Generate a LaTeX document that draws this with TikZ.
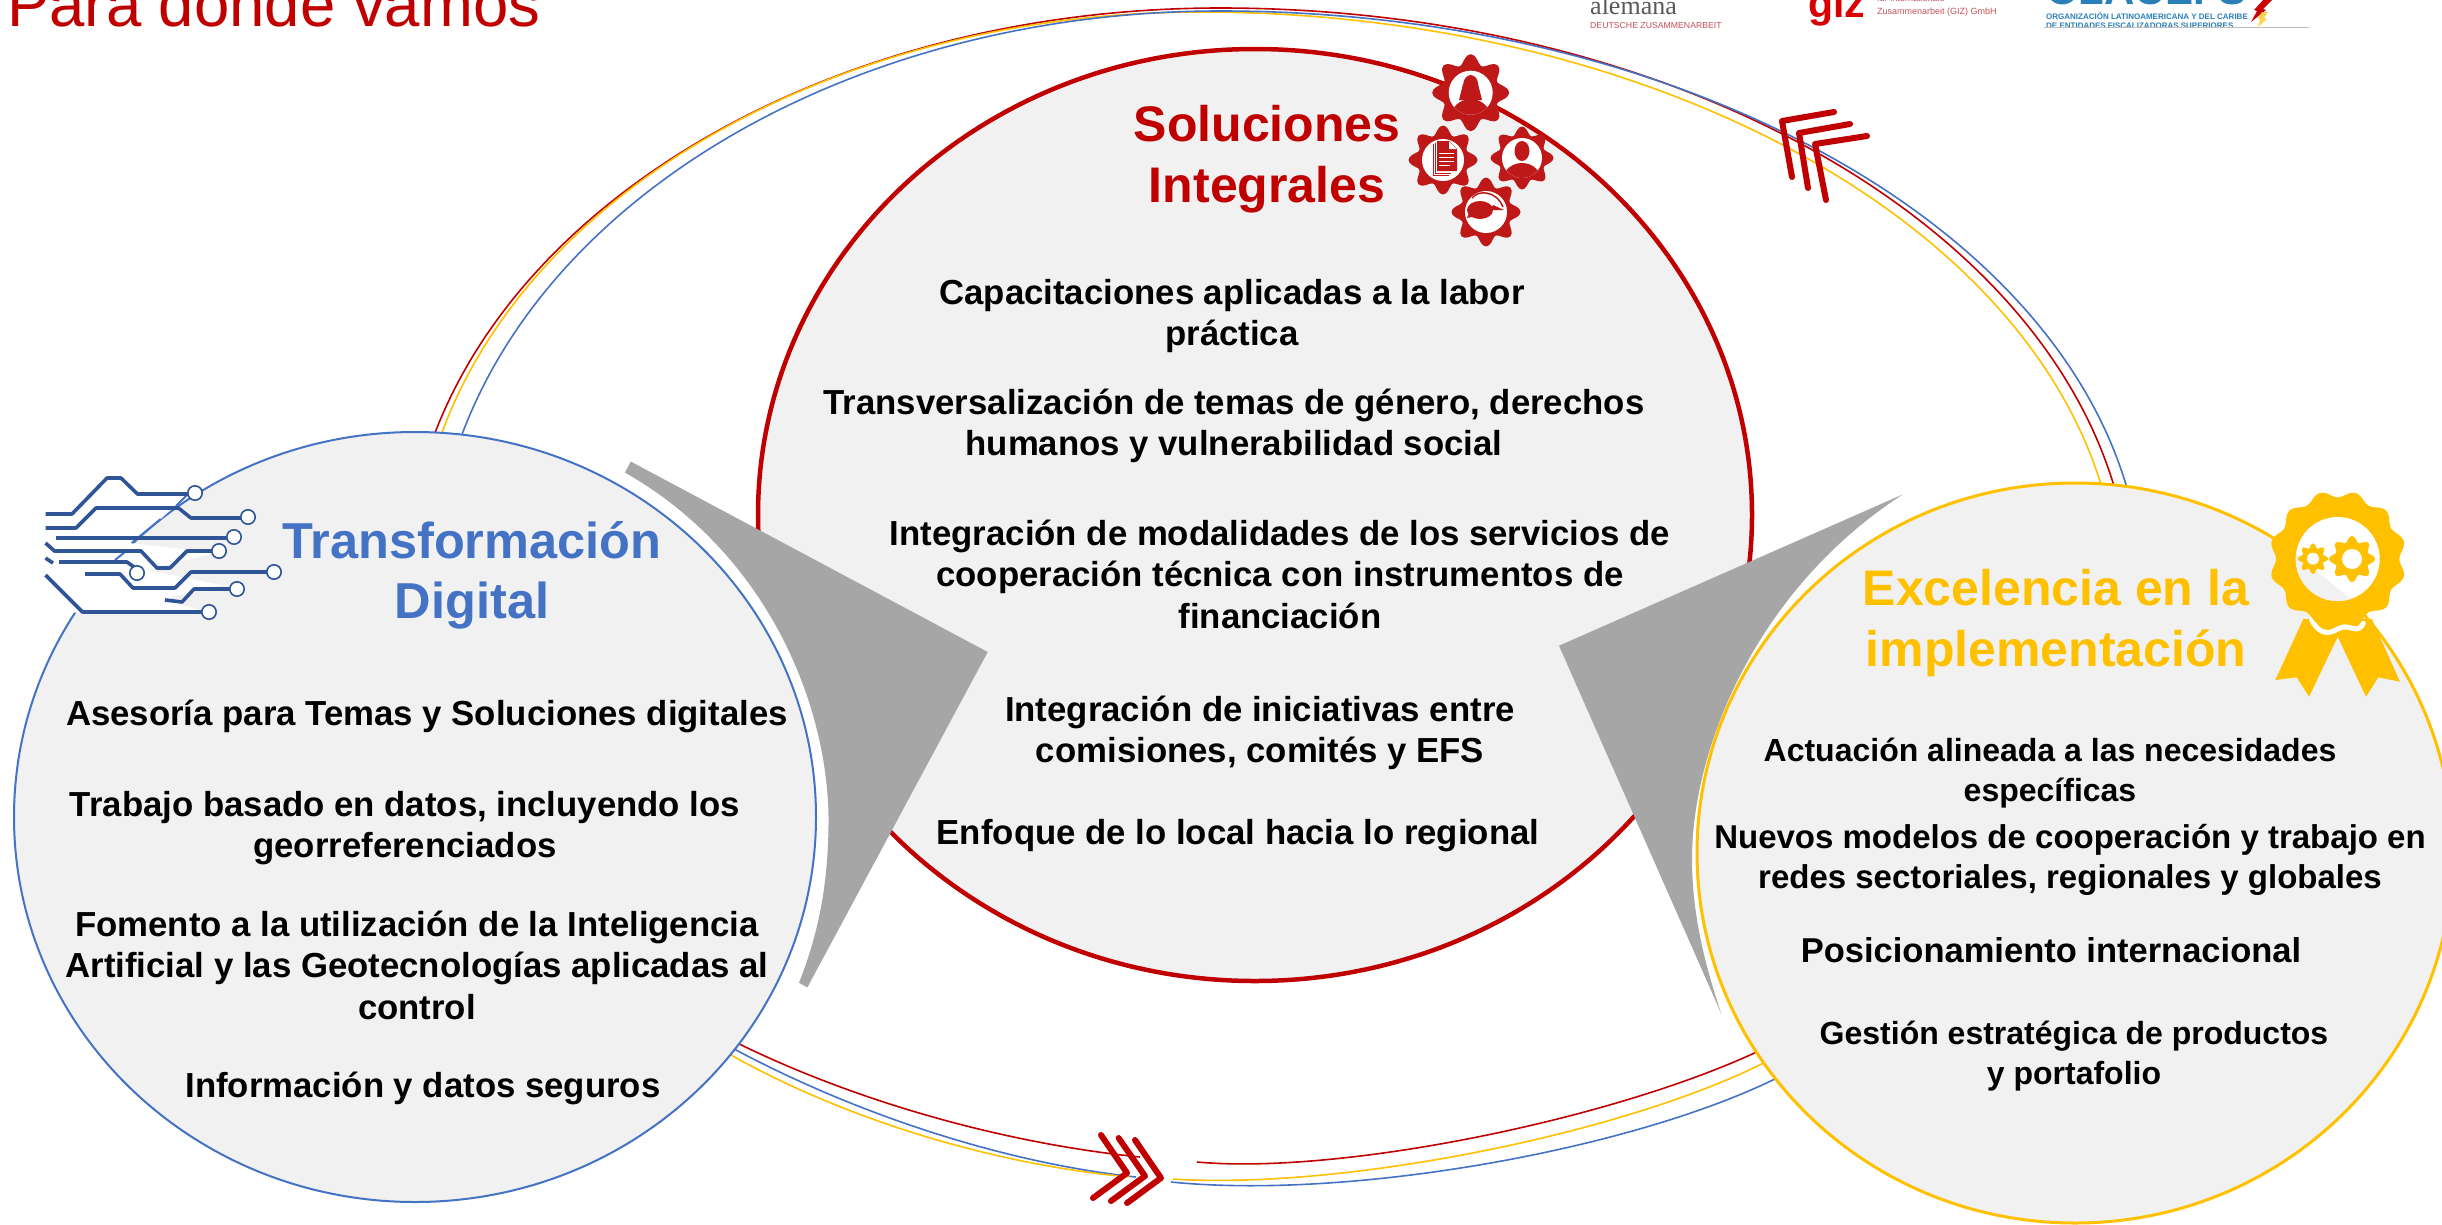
\documentclass[tikz,border=0pt]{standalone}
\usepackage{fontspec}
\setmainfont{Liberation Sans}
\newfontfamily\serifal{Liberation Serif}
\usetikzlibrary{shapes.geometric}
\definecolor{cblue}{HTML}{4472C4}
\definecolor{cred}{HTML}{C00000}
\definecolor{cyel}{HTML}{FFC000}
\definecolor{cgray}{HTML}{A6A6A6}
\definecolor{cfill}{HTML}{F1F1F1}
\definecolor{gearred}{HTML}{BE1818}
\definecolor{circ}{HTML}{2F5597}
\definecolor{logoblue}{HTML}{2A7FB8}
\definecolor{logored}{HTML}{C4505A}
\pgfdeclarelayer{background}
\pgfsetlayers{background,main}
\newcommand\cog[7]{\fill[#1] plot[smooth cycle,samples=72,domain=0:355]
  ({#2+(#4+#5*cos(#6*\x))*cos(\x)},{#3+(#4+#5*cos(#6*\x))*sin(\x)});
  \fill[white] (#2,#3) circle[radius=#7];}
% ring arc over the top: colour, start, end, cx, cy, rxL, rxR, ry, aL, aR
\newcommand\ringtop[9]{\def\rA{#1}\def\rB{#2}\def\rC{#3}\def\rX{#4}\def\rY{#5}\def\rL{#6}\def\rR{#7}\def\rH{#8}\def\aL{#9}\ringtopc}
\newcommand\ringtopc[1]{\pgfmathsetmacro\kL{4/3*tan((\aL-90)/4)}\pgfmathsetmacro\kR{4/3*tan((90-#1)/4)}
  \begin{pgfonlayer}{background}
  \draw[ringline,\rA] (\rB) .. controls ({\rX+\rL*(cos(\aL)+\kL*sin(\aL))},{\rY-\rH*(sin(\aL)-\kL*cos(\aL))}) and ({\rX-\kL*\rL},{\rY-\rH}) .. ({\rX},{\rY-\rH})
   .. controls ({\rX+\kR*\rR},{\rY-\rH}) and ({\rX+\rR*(cos(#1)-\kR*sin(#1))},{\rY-\rH*(sin(#1)+\kR*cos(#1))}) .. (\rC);
  \end{pgfonlayer}}
\tikzset{
  ringline/.style={line width=1.6pt},
  bubble/.style={shape=ellipse,inner sep=0pt,outer sep=0pt,fill=cfill},
  bodytxt/.style={font=\fontsize{34.75}{41.5}\selectfont\bfseries,align=center,inner sep=0pt,text=black},
  bodyy/.style={font=\fontsize{#1}{40}\selectfont\bfseries,align=center,inner sep=0pt,text=black},
  headtxt/.style={font=\fontsize{50}{60.5}\selectfont\bfseries,align=center,inner sep=0pt},
  chev/.style={draw=cred,line width=6pt,line cap=round,line join=round},
  trace/.style={draw=circ,line width=3.6pt,line join=round},
  pad/.style={draw=circ,line width=1.6pt,fill=white},
  smalltxt/.style={inner sep=0pt,anchor=base west}
}
\begin{document}
\begin{tikzpicture}[x=1pt,y=-1pt]
\useasboundingbox (0,0) rectangle (2442,1224);
\clip (0,0) rectangle (2442,1224);
% circles
\node[bubble,draw=cred,line width=4.5pt,minimum width=994pt,minimum height=932pt] (sol) at (1255,515) {};
\begin{scope}
\clip (700,460) rectangle (900,1000);
\fill[white] (415,817) ellipse[x radius=415,y radius=399];
\end{scope}
\node[bubble,draw=cblue,line width=2pt,minimum width=802pt,minimum height=770pt] (dig) at (415,817) {};
\node[bubble,draw=cyel,line width=3pt,minimum width=756pt,minimum height=740pt] (exc) at (2075,853) {};
% rings over the top
\ringtop{cred}{dig.87.3}{exc.84.6}{1220}{590}{818}{905}{582}{164.25}{10.6}
\ringtop{cyel}{dig.86.7}{exc.86.4}{1200}{590}{793}{913}{578}{164.2}{10.7}
\ringtop{cblue}{dig.83.3}{exc.82.2}{1220}{590}{790}{920}{579}{164.2}{10.4}
% rings along the bottom
\coordinate (rl) at (1140,1157);
\coordinate (bl) at (1136,1177);
\coordinate (yl) at (1129,1177);
\coordinate (rr) at (1197,1162);
\coordinate (br) at (1171,1182);
\coordinate (yr) at (1173,1179);
\begin{pgfonlayer}{background}
\draw[ringline,cred] (dig.-35.1) .. controls (862,1104) and (1010,1144) .. (rl);
\draw[ringline,cblue] (dig.-36.1) .. controls (858,1115) and (1005,1163) .. (bl);
\draw[ringline,cyel] (dig.-37.7) .. controls (852,1123) and (1000,1165) .. (yl);
\draw[ringline,cred] (exc.212.4) .. controls (1610,1120) and (1340,1175) .. (rr);
\draw[ringline,cyel] (exc.214.8) .. controls (1620,1135) and (1340,1190) .. (yr);
\draw[ringline,cblue] (exc.217.2) .. controls (1630,1150) and (1350,1200) .. (br);
\end{pgfonlayer}
% chevrons
\draw[chev] (1834,112) -- (1782,121) -- (1792,177);
\draw[chev] (1850,124) -- (1799,133) -- (1808,188);
\draw[chev] (1867,136) -- (1815,144) -- (1826,200);
\draw[chev] (1101,1135) -- (1127,1173) -- (1093,1198);
\draw[chev] (1118.6,1138) -- (1145,1176) -- (1111,1201);
\draw[chev] (1135,1140) -- (1161,1178) -- (1127,1203);
% grey arrows
\fill[cgray] (630.7,461.5) -- (987.7,652) -- (807.3,987.5) -- (799,982.7)
  .. controls (820,930) and (828,880) .. (828.5,825)
  .. controls (830,710) and (770,555) .. (625,472.6) -- cycle;
\fill[cgray] (1903,494.3) -- (1559,645.7) -- (1721.7,1014.6)
  .. controls (1703,960) and (1692,910) .. (1692,859)
  .. controls (1692,750) and (1755,590) .. (1903,494.3) -- cycle;
% circuit icon
\fill[white] (45,613) -- (203,611) -- (163,599) -- (221,585) -- (147,570) -- (215,553) -- (131,543) -- (160.7,519) -- (192,490) -- (45,476) -- cycle;
\draw[cblue,line width=2pt] (192,490) -- (176,506) (160.7,519) -- (131.7,543) (125,552) -- (115,560);
\draw[trace] (45.5,514) -- (72,514) -- (107,478) -- (121,478) -- (137.5,494) -- (190,494);
\draw[trace] (45.5,528) -- (76,528) -- (96,508) -- (178.5,508) -- (191,518) -- (241,518);
\draw[trace] (56,538) -- (228,538);
\draw[trace] (45.5,543) -- (54.5,551) -- (141,551) -- (157,568) -- (170,568) -- (187,551) -- (213,551);
\draw[trace] (45.5,558) -- (53,563);
\draw[trace] (59,562) -- (127,562) -- (134,567);
\draw[trace] (85,574) -- (120,574) -- (133,588) -- (175,588) -- (191,572) -- (268,572);
\draw[trace] (165,600) -- (182,602) -- (194,589) -- (230,589);
\draw[trace] (45.5,575) -- (82.5,612) -- (203,612);
\foreach \px/\py in {195/493,248/517,234/537,219/551,137/573,274/572,237/589,209/612}
  \draw[pad] (\px,\py) circle[radius=7.2];
% gears
\cog{gearred}{1470.7}{92.7}{33.5}{5}{8}{22}
\cog{gearred}{1443}{160}{30}{4.5}{8}{21}
\cog{gearred}{1522}{158}{27.5}{4}{8}{20}
\cog{gearred}{1486}{212}{30}{4.5}{8}{21}
\begin{scope}
\clip (1470.7,92.7) circle[radius=22];
\fill[gearred] (1470.7,85) ellipse[x radius=7.5,y radius=10];
\fill[gearred] (1463,84) -- (1478,84) -- (1482,100) -- (1459,100) -- cycle;
\fill[gearred] (1470.7,118) ellipse[x radius=20,y radius=19];
\end{scope}
\begin{scope}
\clip (1522,158) circle[radius=20];
\fill[gearred] (1522,151) ellipse[x radius=7.5,y radius=10];
\fill[gearred] (1522,180) ellipse[x radius=19,y radius=17];
\end{scope}
\draw[gearred,line width=.8pt] (1433,144) -- (1433,175) -- (1449,175) (1435,143) -- (1435,173) -- (1451,173);
\fill[gearred] (1437,141) -- (1449,141) -- (1457,149) -- (1457,171) -- (1437,171) -- cycle;
\foreach \ly/\lx in {153/1454,157/1454,161/1454,165/1450} \draw[white,line width=1pt] (1439,\ly) -- (\lx,\ly);
\fill[white] (1449,141.5) -- (1449,149) -- (1456.5,149) -- cycle;
\draw[gearred,line width=1.5pt] (1472,198) .. controls (1478,190) and (1496,190) .. (1503,207);
\fill[gearred] (1480,210) ellipse[x radius=13,y radius=9];
\fill[gearred] (1469,213) -- (1467,218) -- (1476,216) -- cycle;
\fill[gearred] (1493,205) -- (1504,210) -- (1490,210) -- cycle;
% badge
\fill[cyel] (2303.3,619) -- (2275.3,680) -- (2296.7,677.3) -- (2309,696.7) -- (2337.7,636.7) -- (2366,696.7) -- (2378.3,677.3) -- (2400,681.7) -- (2371.7,619) -- cycle;
\draw[white,line width=5pt,line cap=round] (2311.7,620) .. controls (2318,632) and (2326,636) .. (2337.7,629) .. controls (2349,622) and (2357,636) .. (2363.3,623.3);
\fill[cyel] plot[smooth cycle,samples=72,domain=0:355]
  ({2337.7+(65-3.5*cos(12*\x))*cos(\x)},{559+(65-3.5*cos(12*\x))*sin(\x)});
\fill[white] (2337.7,559) circle[radius=42];
\begin{scope}
\clip (2337.7,559) circle[radius=42];
\fill[cfill] (2290,549) -- (2354,602) -- (2290,610) -- cycle;
\end{scope}
\cog{cyel}{2352}{559}{20}{3}{8}{10}
\cog{cyel}{2313}{558.7}{13}{2.2}{8}{6}
% headings
\node[headtxt,text=cred] (h1) at (1267,159) {Soluciones\\Integrales};
\node[headtxt,text=cblue,font=\fontsize{50.5}{60}\selectfont\bfseries] (h2) at (472,575) {Transformación\\Digital};
\node[headtxt,text=cyel] (h3) at (2056,623) {Excelencia en la\\implementación};
% blue circle text
\node[bodytxt] (d1) at (427,716) {Asesoría para Temas y Soluciones digitales};
\node[bodytxt] (d2) at (405,828) {Trabajo basado en datos, incluyendo los\\georreferenciados};
\node[bodytxt] (d3) at (417,965) {Fomento a la utilización de la Inteligencia\\Artificial y las Geotecnologías aplicadas al\\control};
\node[bodytxt] (d4) at (423,1088) {Información y datos seguros};
% red circle text
\node[bodytxt] (s1t) at (1232,316) {Capacitaciones aplicadas a la labor\\práctica};
\node[bodytxt] (s2) at (1234,426) {Transversalización de temas de género, derechos\\humanos y vulnerabilidad social};
\node[bodytxt] (s3) at (1280,574) {Integración de modalidades de los servicios de\\cooperación técnica con instrumentos de\\financiación};
\node[bodytxt] (s4) at (1260,733) {Integración de iniciativas entre\\comisiones, comités y EFS};
\node[bodytxt] (s5) at (1238,836) {Enfoque de lo local hacia lo regional};
% yellow circle text
\node[bodyy=32] (e1) at (2050,773) {Actuación alineada a las necesidades\\específicas};
\node[bodyy=33] (e2) at (2070,860) {Nuevos modelos de cooperación y trabajo en\\redes sectoriales, regionales y globales};
\node[bodyy=34.5] (e3) at (2051,950) {Posicionamiento internacional};
\node[bodyy=32] (e4) at (2074,1056) {Gestión estratégica de productos\\y portafolio};
% title
\node[smalltxt,text=cred,font=\fontsize{63.5}{64}\selectfont] (title) at (7,26) {Para donde vamos};
% logos
\node[smalltxt,text=black!65,font=\fontsize{26}{26}\selectfont\serifal] (l1) at (1590,14) {alemana};
\node[smalltxt,text=logored,font=\fontsize{8.7}{9}\selectfont] (l2) at (1590,28) {DEUTSCHE ZUSAMMENARBEIT};
\node[smalltxt,text=red!85!black,font=\fontsize{41}{41}\selectfont\bfseries] (l3) at (1808,17) {giz};
\node[smalltxt,text=logored,font=\fontsize{9}{9}\selectfont] (l4) at (1877,1.5) {für Internationale};
\node[smalltxt,text=logored,font=\fontsize{9}{9}\selectfont] (l5) at (1877,14) {Zusammenarbeit (GIZ) GmbH};
\node[smalltxt,text=logoblue,font=\fontsize{42}{42}\selectfont\bfseries] (l6) at (2046,4) {OLACEFS};
\node[smalltxt,text=logoblue,font=\fontsize{8}{8}\selectfont\bfseries] (l7) at (2046,19) {ORGANIZACIÓN LATINOAMERICANA Y DEL CARIBE};
\node[smalltxt,text=logoblue,font=\fontsize{8}{8}\selectfont\bfseries] (l8) at (2046,28) {DE ENTIDADES FISCALIZADORAS SUPERIORES};
\draw[black!25,line width=1pt] (2044,27.5) -- (2309,27.5);
\fill[red!80!black] (2263,0) -- (2272,0) -- (2263,9) -- (2266,10) -- (2251,22) -- (2257,11) -- (2254,10) -- cycle;
\fill[cyel!70!white] (2268,12) -- (2264,18) -- (2267,19) -- (2258,27) -- (2260,19) -- (2258,18) -- (2262,12) -- cycle;
\end{tikzpicture}
\end{document}
